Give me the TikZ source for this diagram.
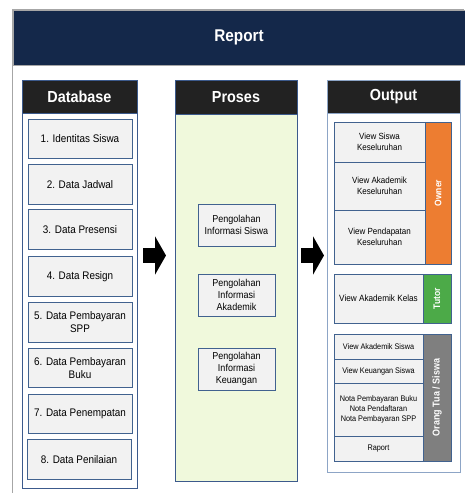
\documentclass[tikz,border=0pt]{standalone}
\usepackage{fontspec}
\setmainfont{Liberation Sans}[FakeStretch=0.9]
\usetikzlibrary{arrows.meta}
\definecolor{navy}{HTML}{14284A}
\definecolor{hdrblack}{HTML}{222222}
\definecolor{panelblue}{HTML}{3C5A8C}
\definecolor{outblue}{HTML}{8DA5C6}
\definecolor{itemblue}{HTML}{41628F}
\definecolor{itemgray}{HTML}{F2F2F2}
\definecolor{prosgreen}{HTML}{F0F9DC}
\definecolor{ownerorange}{HTML}{ED7D31}
\definecolor{tutorgreen}{HTML}{4CAA48}
\definecolor{ortugray}{HTML}{7F7F7F}
\definecolor{framegray}{HTML}{A6A6A6}
\tikzset{
  fs/.style 2 args={font=\fontsize{#1}{#2}\selectfont},
  panelbox/.style={draw=panelblue, line width=0.8pt, inner sep=0pt},
  hdrbox/.style={draw=panelblue, fill=hdrblack, line width=0.8pt, inner sep=0pt, text=white,
    font=\bfseries\fontsize{16}{19}\selectfont},
  itembox/.style={draw=itemblue, fill=itemgray, line width=0.8pt, inner sep=1pt, align=center},
  barbox/.style={draw=itemblue, line width=0.8pt, inner sep=0pt, text=white, rotate=90},
  blockarrow/.style={line width=15pt, black, -{Triangle[length=11pt,width=38pt]}},
}
\begin{document}
\begin{tikzpicture}[x=1pt,y=-1pt]
\useasboundingbox (0,0) rectangle (464,493);
% outer frame
\draw[framegray, line width=0.8pt] (12.5,493) -- (12.5,9.5) -- (464,9.5);
\node[fill=navy, draw=framegray, line width=0.6pt, minimum width=452pt, minimum height=55pt, inner sep=0pt,
  text=white, font=\bfseries\fontsize{17}{20}\selectfont] (rep) at (239,37.5) {Report};

% panels
\node[panelbox, fill=white, minimum width=115pt, minimum height=408pt] (db) at (79.5,284) {};
\node[hdrbox, minimum width=115pt, minimum height=33pt] (dbh) at (79.5,96.5) {Database};
\node[panelbox, fill=prosgreen, minimum width=122pt, minimum height=401pt] (pr) at (236,280.5) {};
\node[hdrbox, minimum width=122pt, minimum height=34pt] (prh) at (236,97) {Proses};
\node[panelbox, draw=outblue, fill=white, minimum width=133pt, minimum height=392pt] (out) at (393.5,276) {};
\node[hdrbox, draw=outblue, minimum width=133pt, minimum height=33pt] (outh) at (393.5,96.5) {Output};

% database items
\begin{scope}[every node/.style={itembox, fs={11}{13}, minimum width=104pt, minimum height=39.5pt}]
\node (d1) at (80,139) {1. Identitas Siswa};
\node (d2) at (80,184.5) {2. Data Jadwal};
\node (d3) at (80,229.5) {3. Data Presensi};
\node (d4) at (80,276.5) {4. Data Resign};
\node (d5) at (80,322.5) {5. Data Pembayaran\\SPP};
\node (d6) at (80,368) {6. Data Pembayaran\\Buku};
\node (d7) at (80,414) {7. Data Penempatan};
\node (d8) at (79,459.5) {8. Data Penilaian};
\end{scope}

% proses items
\begin{scope}[every node/.style={itembox, fs={10}{12}, minimum width=77pt, minimum height=42pt}]
\node (p1) at (236.5,225) {Pengolahan\\Informasi Siswa};
\node (p2) at (236.5,295) {Pengolahan\\Informasi\\Akademik};
\node (p3) at (236.5,369) {Pengolahan\\Informasi\\Keuangan};
\end{scope}

% owner group
\begin{scope}[every node/.style={itembox, fs={8.9}{11.5}, minimum width=91pt}]
\node[minimum height=40pt] (o1) at (379.5,142) {View Siswa\\Keseluruhan};
\node[minimum height=48pt] (o2) at (379.5,186) {View Akademik\\Keseluruhan};
\node[minimum height=54pt] (o3) at (379.5,237) {View Pendapatan\\Keseluruhan};
\end{scope}
\node[barbox, fill=ownerorange, minimum width=142pt, minimum height=26pt,
  font=\bfseries\fontsize{9.5}{11}\selectfont] (owner) at (438,193) {Owner};

% tutor group
\node[itembox, fs={9.1}{11}, minimum width=89pt, minimum height=49pt] (t1) at (378.5,298.5) {View Akademik Kelas};
\node[barbox, fill=tutorgreen, minimum width=49pt, minimum height=28pt,
  font=\bfseries\fontsize{9.5}{11}\selectfont] (tutor) at (437,298.5) {Tutor};

% orang tua group
\begin{scope}[every node/.style={itembox, fs={8.1}{10.2}, minimum width=89pt}]
\node[minimum height=25pt] (r1) at (378.5,346.5) {View Akademik Siswa};
\node[minimum height=24pt] (r2) at (378.5,371) {View Keuangan Siswa};
\node[minimum height=53pt] (r3) at (378.5,409.5) {Nota Pembayaran Buku\\Nota Pendaftaran\\Nota Pembayaran SPP};
\node[minimum height=25pt] (r4) at (378.5,448.5) {Raport};
\end{scope}
\node[barbox, fill=ortugray, minimum width=127pt, minimum height=28pt,
  font=\bfseries\fontsize{10}{12}\selectfont] (ortu) at (437,397.5) {Orang Tua / Siswa};

% block arrows
\coordinate (a1s) at (143,255.5);
\coordinate (a1e) at (166,255.5);
\coordinate (a2s) at (301,255.5);
\coordinate (a2e) at (324,255.5);
\draw[blockarrow] (a1s) -- (a1e);
\draw[blockarrow] (a2s) -- (a2e);
\end{tikzpicture}
\end{document}
